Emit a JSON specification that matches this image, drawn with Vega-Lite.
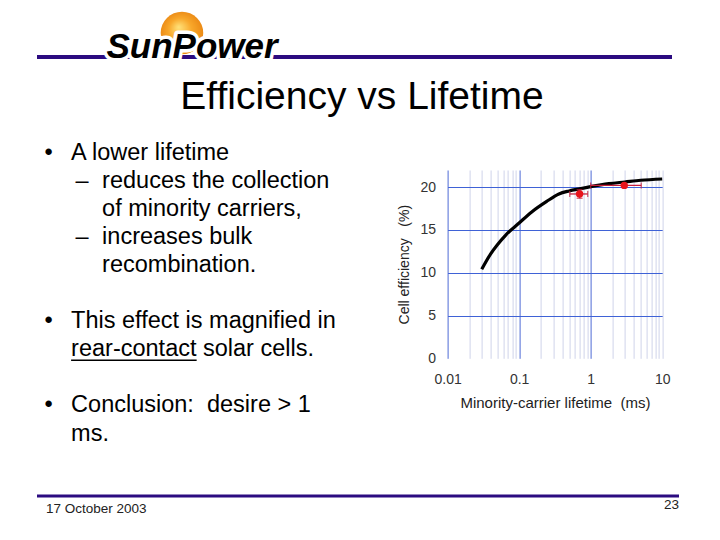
{
  "$schema": "https://vega.github.io/schema/vega-lite/v6.json",
  "background": "white",
  "padding": {"left": 35, "top": 0, "right": 0, "bottom": 0},
  "bounds": "full",
  "spacing": 0,
  "config": {
    "view": {"stroke": null},
    "font": "Liberation Sans",
    "text": {"font": "Liberation Sans"},
    "axis": {"labelFont": "Liberation Sans", "titleFont": "Liberation Sans"}
  },
  "datasets": {
    "curve": [
      {"tau": 0.03, "eff": 10.4},
      {"tau": 0.04, "eff": 12.2},
      {"tau": 0.05, "eff": 13.3},
      {"tau": 0.065, "eff": 14.4},
      {"tau": 0.1, "eff": 15.8},
      {"tau": 0.15, "eff": 17.1},
      {"tau": 0.24, "eff": 18.3},
      {"tau": 0.36, "eff": 19.2},
      {"tau": 0.5, "eff": 19.55},
      {"tau": 0.7, "eff": 19.8},
      {"tau": 1, "eff": 20.05},
      {"tau": 1.8, "eff": 20.4},
      {"tau": 3, "eff": 20.6},
      {"tau": 5, "eff": 20.8},
      {"tau": 10, "eff": 20.95}
    ],
    "meas": [
      {"tau": 0.7, "eff": 19.2, "tlo": 0.51, "thi": 0.91, "elo": 18.7, "ehi": 19.7},
      {"tau": 2.95, "eff": 20.2, "tlo": 1.0, "thi": 5.1}
    ]
  },
  "vconcat": [
    {
      "width": 635,
      "height": 132,
      "data": {"values": [{"logo": "SunPower", "title": "Efficiency vs Lifetime"}]},
      "layer": [
        {
          "mark": {"type": "rule", "color": "#2b0b80", "strokeWidth": 4},
          "encoding": {
            "y": {"datum": 0.4318, "type": "quantitative", "scale": {"domain": [0, 1], "reverse": true, "nice": false, "zero": false}, "axis": null}
          }
        },
        {
          "mark": {
            "type": "point", "shape": "circle", "filled": true, "opacity": 1, "size": 1810, "strokeWidth": 0,
            "color": {"gradient": "radial", "x1": 0.42, "y1": 0.36, "r1": 0, "x2": 0.5, "y2": 0.5, "r2": 0.55,
              "stops": [{"offset": 0, "color": "#ffe27a"}, {"offset": 0.5, "color": "#f8a72a"}, {"offset": 1, "color": "#e98512"}]}
          },
          "encoding": {
            "x": {"datum": 0.2283, "type": "quantitative", "scale": {"domain": [0, 1], "nice": false, "zero": false}, "axis": null},
            "y": {"datum": 0.25, "type": "quantitative", "scale": {"domain": [0, 1], "reverse": true, "nice": false, "zero": false}, "axis": null}
          }
        },
        {
          "mark": {"type": "text", "fontSize": 35, "fontWeight": "bold", "fontStyle": "italic", "align": "center", "baseline": "alphabetic", "fill": "white", "stroke": "white", "strokeWidth": 7, "strokeJoin": "round"},
          "encoding": {
            "x": {"datum": 0.2441, "type": "quantitative", "scale": {"domain": [0, 1], "nice": false, "zero": false}, "axis": null},
            "y": {"datum": 0.443, "type": "quantitative", "scale": {"domain": [0, 1], "reverse": true, "nice": false, "zero": false}, "axis": null},
            "text": {"field": "logo"}
          }
        },
        {
          "mark": {"type": "text", "fontSize": 35, "fontWeight": "bold", "fontStyle": "italic", "align": "center", "baseline": "alphabetic", "color": "black"},
          "encoding": {
            "x": {"datum": 0.2441, "type": "quantitative", "scale": {"domain": [0, 1], "nice": false, "zero": false}, "axis": null},
            "y": {"datum": 0.443, "type": "quantitative", "scale": {"domain": [0, 1], "reverse": true, "nice": false, "zero": false}, "axis": null},
            "text": {"field": "logo"}
          }
        },
        {
          "mark": {"type": "text", "fontSize": 39, "align": "center", "baseline": "alphabetic", "color": "black"},
          "encoding": {
            "x": {"datum": 0.5118, "type": "quantitative", "scale": {"domain": [0, 1], "nice": false, "zero": false}, "axis": null},
            "y": {"datum": 0.8258, "type": "quantitative", "scale": {"domain": [0, 1], "reverse": true, "nice": false, "zero": false}, "axis": null},
            "text": {"field": "title"}
          }
        }
      ]
    },
    {
      "bounds": "flush",
      "spacing": 65.6,
      "hconcat": [
        {
          "width": 344.1,
          "height": 357.9,
          "data": {"values": [
            {"line": 0, "level": 0, "marker": "•", "text": "A lower lifetime"},
            {"line": 1, "level": 1, "marker": "–", "text": "reduces the collection"},
            {"line": 2, "level": 1, "text": "of minority carriers,"},
            {"line": 3, "level": 1, "marker": "–", "text": "increases bulk"},
            {"line": 4, "level": 1, "text": "recombination."},
            {"line": 6, "level": 0, "marker": "•", "text": "This effect is magnified in"},
            {"line": 7, "level": 0, "text": "rear-contact solar cells."},
            {"line": 9, "level": 0, "marker": "•", "text": "Conclusion:\u00a0 desire > 1"},
            {"line": 10, "level": 0, "text": "ms."}
          ]},
          "encoding": {
            "x": {"field": "level", "type": "quantitative", "scale": {"domain": [-1.1, 10], "nice": false, "zero": false}, "axis": null},
            "y": {"field": "line", "type": "quantitative", "scale": {"domain": [-1, 11.76], "reverse": true, "nice": false, "zero": false}, "axis": null}
          },
          "layer": [
            {
              "mark": {"type": "text", "align": "left", "baseline": "alphabetic", "fontSize": 23.5, "color": "black"},
              "encoding": {"text": {"field": "text"}}
            },
            {
              "transform": [{"filter": "isValid(datum.marker)"}],
              "mark": {"type": "text", "align": "left", "baseline": "alphabetic", "fontSize": 23.5, "dx": -26.5, "color": "black"},
              "encoding": {"text": {"field": "marker"}}
            },
            {
              "transform": [{"filter": "datum.line == 7"}],
              "mark": {"type": "rule", "color": "black", "strokeWidth": 1.5},
              "encoding": {
                "x": {"datum": 0, "type": "quantitative"},
                "x2": {"datum": 4.05},
                "y": {"datum": 7.14, "type": "quantitative"}
              }
            }
          ]
        },
        {
          "bounds": "flush",
          "spacing": 0,
          "vconcat": [
            {
              "width": 214.6,
              "height": 38,
              "data": {"values": []},
              "mark": "point"
            },
            {
              "width": 214.6,
              "height": 188.3,
              "layer": [
                {
                  "data": {"name": "curve"},
                  "mark": {"type": "line", "color": "black", "strokeWidth": 3.2, "interpolate": "monotone"},
                  "encoding": {
                    "x": {
                      "field": "tau", "type": "quantitative",
                      "title": "Minority-carrier lifetime\u00a0 (ms)",
                      "scale": {"type": "log", "domain": [0.01, 10], "nice": false},
                      "axis": {
                        "values": [0.01, 0.02, 0.03, 0.04, 0.05, 0.06, 0.07, 0.08, 0.09, 0.1, 0.2, 0.3, 0.4, 0.5, 0.6, 0.7, 0.8, 0.9, 1, 2, 3, 4, 5, 6, 7, 8, 9, 10],
                        "format": "~g",
                        "labelExpr": "datum.value == 0.01 || datum.value == 0.1 || datum.value == 1 || datum.value == 10 ? datum.label : ''",
                        "labelOverlap": false, "labelFlush": false, "labelBound": false,
                        "grid": true,
                        "gridColor": {"condition": {"test": "datum.value == 0.1 || datum.value == 1 || datum.value == 0.01", "value": "#4d6bd6"}, "value": "#cfd3ea"},
                        "gridWidth": 1,
                        "ticks": false, "domain": false,
                        "labelFontSize": 14, "labelColor": "#333333", "labelPadding": 14,
                        "titleFontSize": 15, "titleFontWeight": "normal", "titleColor": "#222222", "titlePadding": 9
                      }
                    },
                    "y": {
                      "field": "eff", "type": "quantitative",
                      "title": "Cell efficiency\u00a0\u00a0 (%)",
                      "scale": {"domain": [0, 22], "nice": false},
                      "axis": {
                        "values": [0, 5, 10, 15, 20],
                        "grid": true,
                        "gridColor": "#3f62d6",
                        "gridOpacity": {"condition": {"test": "datum.value == 0", "value": 0}, "value": 1},
                        "ticks": false, "domain": false,
                        "labelFontSize": 14, "labelColor": "#333333", "labelPadding": 12,
                        "titleFontSize": 14, "titleFontWeight": "normal", "titleColor": "#222222", "titlePadding": 9
                      }
                    }
                  }
                },
                {
                  "data": {"name": "meas"},
                  "mark": {"type": "errorbar", "color": "#c81e3c", "thickness": 1.3, "ticks": {"size": 6}},
                  "encoding": {
                    "x": {"field": "tlo", "type": "quantitative", "title": "Minority-carrier lifetime\u00a0 (ms)"},
                    "x2": {"field": "thi"},
                    "y": {"field": "eff", "type": "quantitative", "title": "Cell efficiency\u00a0\u00a0 (%)"}
                  }
                },
                {
                  "data": {"name": "meas"},
                  "transform": [{"filter": "isValid(datum.elo)"}],
                  "mark": {"type": "errorbar", "color": "#c81e3c", "thickness": 1.3, "ticks": {"size": 6}},
                  "encoding": {
                    "y": {"field": "elo", "type": "quantitative", "title": "Cell efficiency\u00a0\u00a0 (%)"},
                    "y2": {"field": "ehi"},
                    "x": {"field": "tau", "type": "quantitative", "title": "Minority-carrier lifetime\u00a0 (ms)"}
                  }
                },
                {
                  "data": {"name": "meas"},
                  "mark": {"type": "circle", "color": "#e8141c", "size": 55, "opacity": 1},
                  "encoding": {
                    "x": {"field": "tau", "type": "quantitative", "title": "Minority-carrier lifetime\u00a0 (ms)"},
                    "y": {"field": "eff", "type": "quantitative", "title": "Cell efficiency\u00a0\u00a0 (%)"}
                  }
                }
              ]
            }
          ]
        }
      ]
    },
    {
      "width": 642,
      "height": 30,
      "data": {"values": [{"date": "17 October 2003", "page": "23"}]},
      "layer": [
        {
          "mark": {"type": "rule", "color": "#2b0b80", "strokeWidth": 3},
          "encoding": {
            "y": {"datum": 0.2, "type": "quantitative", "scale": {"domain": [0, 1], "reverse": true, "nice": false, "zero": false}, "axis": null}
          }
        },
        {
          "mark": {"type": "text", "align": "left", "baseline": "alphabetic", "fontSize": 13.5, "color": "#222222"},
          "encoding": {
            "x": {"datum": 0.014, "type": "quantitative", "scale": {"domain": [0, 1], "nice": false, "zero": false}, "axis": null},
            "y": {"datum": 0.783, "type": "quantitative", "scale": {"domain": [0, 1], "reverse": true, "nice": false, "zero": false}, "axis": null},
            "text": {"field": "date"}
          }
        },
        {
          "mark": {"type": "text", "align": "right", "baseline": "alphabetic", "fontSize": 13.5, "color": "#222222"},
          "encoding": {
            "x": {"datum": 1, "type": "quantitative", "scale": {"domain": [0, 1], "nice": false, "zero": false}, "axis": null},
            "y": {"datum": 0.633, "type": "quantitative", "scale": {"domain": [0, 1], "reverse": true, "nice": false, "zero": false}, "axis": null},
            "text": {"field": "page"}
          }
        }
      ]
    }
  ]
}
